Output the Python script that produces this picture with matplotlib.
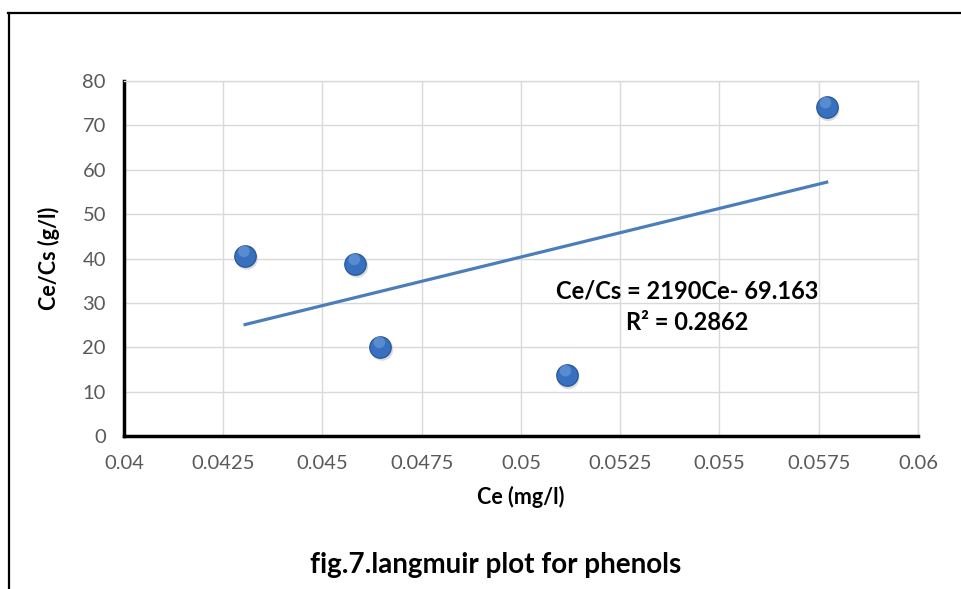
import numpy as np
import matplotlib.pyplot as plt
from matplotlib.lines import Line2D

# data
ce = [0.04305, 0.04583, 0.04646, 0.05115, 0.05770]
ce_cs = [40.6, 38.8, 20.1, 13.7, 74.1]
slope = 2190
intercept = -69.163
eq_text = "Ce/Cs = 2190Ce- 69.163"
r2_text = "R² = 0.2862"
xticks = [0.04, 0.0425, 0.045, 0.0475, 0.05, 0.0525, 0.055, 0.0575, 0.06]
xtick_labels = ["0.04", "0.0425", "0.045", "0.0475", "0.05", "0.0525", "0.055", "0.0575", "0.06"]
yticks = [0, 10, 20, 30, 40, 50, 60, 70, 80]

plt.rcParams['font.family'] = ['Lato', 'DejaVu Sans']

fig = plt.figure(figsize=(9.62, 5.89), dpi=100)
W, H = 962, 589
ax = fig.add_axes([124 / W, 1 - 436 / H, (918 - 124) / W, (436 - 81) / H])

# outer frame (top and left edges only visible)
fig.add_artist(Line2D([8 / W, 1], [1 - 13 / H, 1 - 13 / H], color='black', lw=1.6,
                      transform=fig.transFigure))
fig.add_artist(Line2D([9 / W, 9 / W], [1 - 13 / H, 0], color='black', lw=1.6,
                      transform=fig.transFigure))

# trend line
xs = np.array([min(ce), max(ce)])
ax.plot(xs, slope * xs + intercept, color='#4a7ebb', lw=2.3, zorder=3)

# sphere-like markers: shadow, body, highlight
ax.scatter(np.array(ce) + 0.00004, np.array(ce_cs) - 0.6, s=260, color='#b8b8b8', alpha=0.5,
           edgecolors='none', zorder=3)
ax.scatter(ce, ce_cs, s=240, color='#3670be', edgecolors='#24528f', linewidths=0.8, zorder=4)
ax.scatter(np.array(ce) - 0.00003, np.array(ce_cs) + 1.0, s=70, color='#6f9edb', alpha=0.6,
           edgecolors='none', zorder=5)

ax.set_xlim(0.04, 0.06)
ax.set_ylim(0, 80)
ax.set_xticks(xticks)
ax.set_xticklabels(xtick_labels)
ax.set_yticks(yticks)
ax.grid(True, color='#d9d9d9', lw=1.0)
ax.set_axisbelow(True)
ax.tick_params(length=0, labelsize=14.5, colors='#595959')
ax.tick_params(axis='x', pad=14)
ax.tick_params(axis='y', pad=13)
for s in ['top', 'right']:
    ax.spines[s].set_color('#d9d9d9')
    ax.spines[s].set_linewidth(1.0)
for s in ['left', 'bottom']:
    ax.spines[s].set_color('black')
    ax.spines[s].set_linewidth(2.5)

ax.set_xlabel("Ce (mg/l)", fontsize=15.5, fontweight='bold', labelpad=10)
ax.set_ylabel("Ce/Cs (g/l)", fontsize=15.5, fontweight='bold', labelpad=16)

ax.text(0.05418, 32.7, eq_text, ha='center', va='center', fontsize=17, fontweight='bold')
ax.text(0.05418, 25.5, r2_text, ha='center', va='center', fontsize=17, fontweight='bold')

fig.text(496 / W, 1 - 565 / H, "fig.7.langmuir plot for phenols", ha='center', va='center',
         fontsize=20, fontweight='bold')

fig.savefig("out.png", dpi=100)
